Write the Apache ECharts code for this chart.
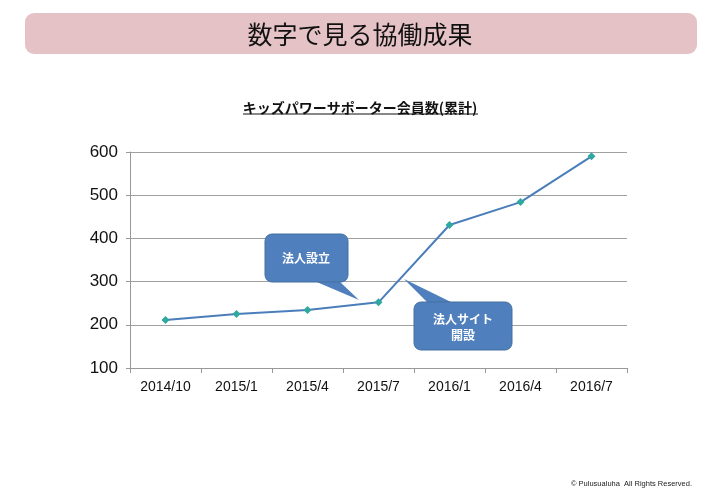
<!DOCTYPE html>
<html>
<head>
<meta charset="utf-8">
<script src="https://cdn.jsdelivr.net/npm/echarts@6/dist/echarts.min.js"></script>
<style>
html,body{margin:0;padding:0;background:#fff;}
#main{width:720px;height:498px;}
</style>
</head>
<body>
<div id="main"></div>
<script>
// 期間
var periods = ['2014/10', '2015/1', '2015/4', '2015/7', '2016/1', '2016/4', '2016/7'];
// 会員数(累計)
var members = [211, 225, 234, 252, 431, 484, 590];
var yTicks = [100, 200, 300, 400, 500, 600];

var jp = '"Noto Sans CJK JP", "Noto Sans", sans-serif';
var num = '"Liberation Sans", Arial, sans-serif';
var boxColor = '#4f7fbc';

var myChart = echarts.init(document.getElementById('main'));
var option = {
	animation: false,
	backgroundColor: '#fff',
	title: [{
		text: '数字で見る協働成果',
		left: 'center',
		top: 17,
		textStyle: {fontFamily: jp, fontSize: 25, fontWeight: 'normal', color: '#111'}
	}, {
		text: 'キッズパワーサポーター会員数(累計)',
		left: 'center',
		top: 96,
		textStyle: {fontFamily: jp, fontSize: 14, fontWeight: 'bold', color: '#111'}
	}, {
		text: '© Pulusualuha  All Rights Reserved.',
		left: 566,
		top: 475,
		textStyle: {fontFamily: '"Liberation Sans", sans-serif', fontSize: 7.5, fontWeight: 'normal', color: '#222'}
	}],
	grid: {left: 130, right: 93, top: 152, bottom: 130},
	xAxis: {
		type: 'category',
		data: periods,
		boundaryGap: true,
		axisLine: {lineStyle: {color: '#999', width: 1}},
		axisTick: {show: true, length: 5, lineStyle: {color: '#999'}},
		axisLabel: {fontFamily: num, fontSize: 14, color: '#111', margin: 12}
	},
	yAxis: {
		type: 'value',
		min: yTicks[0],
		max: yTicks[yTicks.length - 1],
		interval: 100,
		axisLine: {show: true, lineStyle: {color: '#999', width: 1}},
		axisTick: {show: true, length: 4, lineStyle: {color: '#999'}},
		splitLine: {lineStyle: {color: '#a0a0a0', width: 1}},
		axisLabel: {fontFamily: num, fontSize: 17, color: '#111', margin: 12}
	},
	series: [{
		name: '会員数',
		type: 'line',
		data: members,
		symbol: 'diamond',
		symbolSize: 8,
		lineStyle: {color: '#4a7ebb', width: 2},
		itemStyle: {color: '#2fa89f', borderWidth: 0}
	}],
	graphic: [
		{type: 'rect', z: -1, shape: {x: 25, y: 13, width: 672, height: 41, r: 9}, style: {fill: '#e5c2c6'}},
		{type: 'line', shape: {x1: 243, y1: 114, x2: 478, y2: 114}, style: {stroke: '#111', lineWidth: 1}},
		// 吹き出し: 法人設立
		{type: 'polygon', z: 10, shape: {points: [[312, 280], [338, 280], [359, 300]]}, style: {fill: boxColor}},
		{type: 'rect', z: 10, shape: {x: 265, y: 234, width: 83, height: 48, r: 7}, style: {fill: boxColor, stroke: '#44709f', lineWidth: 1}},
		{type: 'text', z: 11, x: 306, y: 258, style: {text: '法人設立', fill: '#fff', font: 'bold 12px ' + jp, align: 'center', verticalAlign: 'middle'}},
		// 吹き出し: 法人サイト開設
		{type: 'polygon', z: 10, shape: {points: [[404, 279], [428, 303], [453, 303]]}, style: {fill: boxColor}},
		{type: 'rect', z: 10, shape: {x: 414, y: 302, width: 98, height: 48, r: 7}, style: {fill: boxColor, stroke: '#44709f', lineWidth: 1}},
		{type: 'text', z: 11, x: 463, y: 327, style: {text: '法人サイト\n開設', fill: '#fff', font: 'bold 12px ' + jp, align: 'center', verticalAlign: 'middle', lineHeight: 16}}
	]
};
myChart.setOption(option);
</script>
</body>
</html>
